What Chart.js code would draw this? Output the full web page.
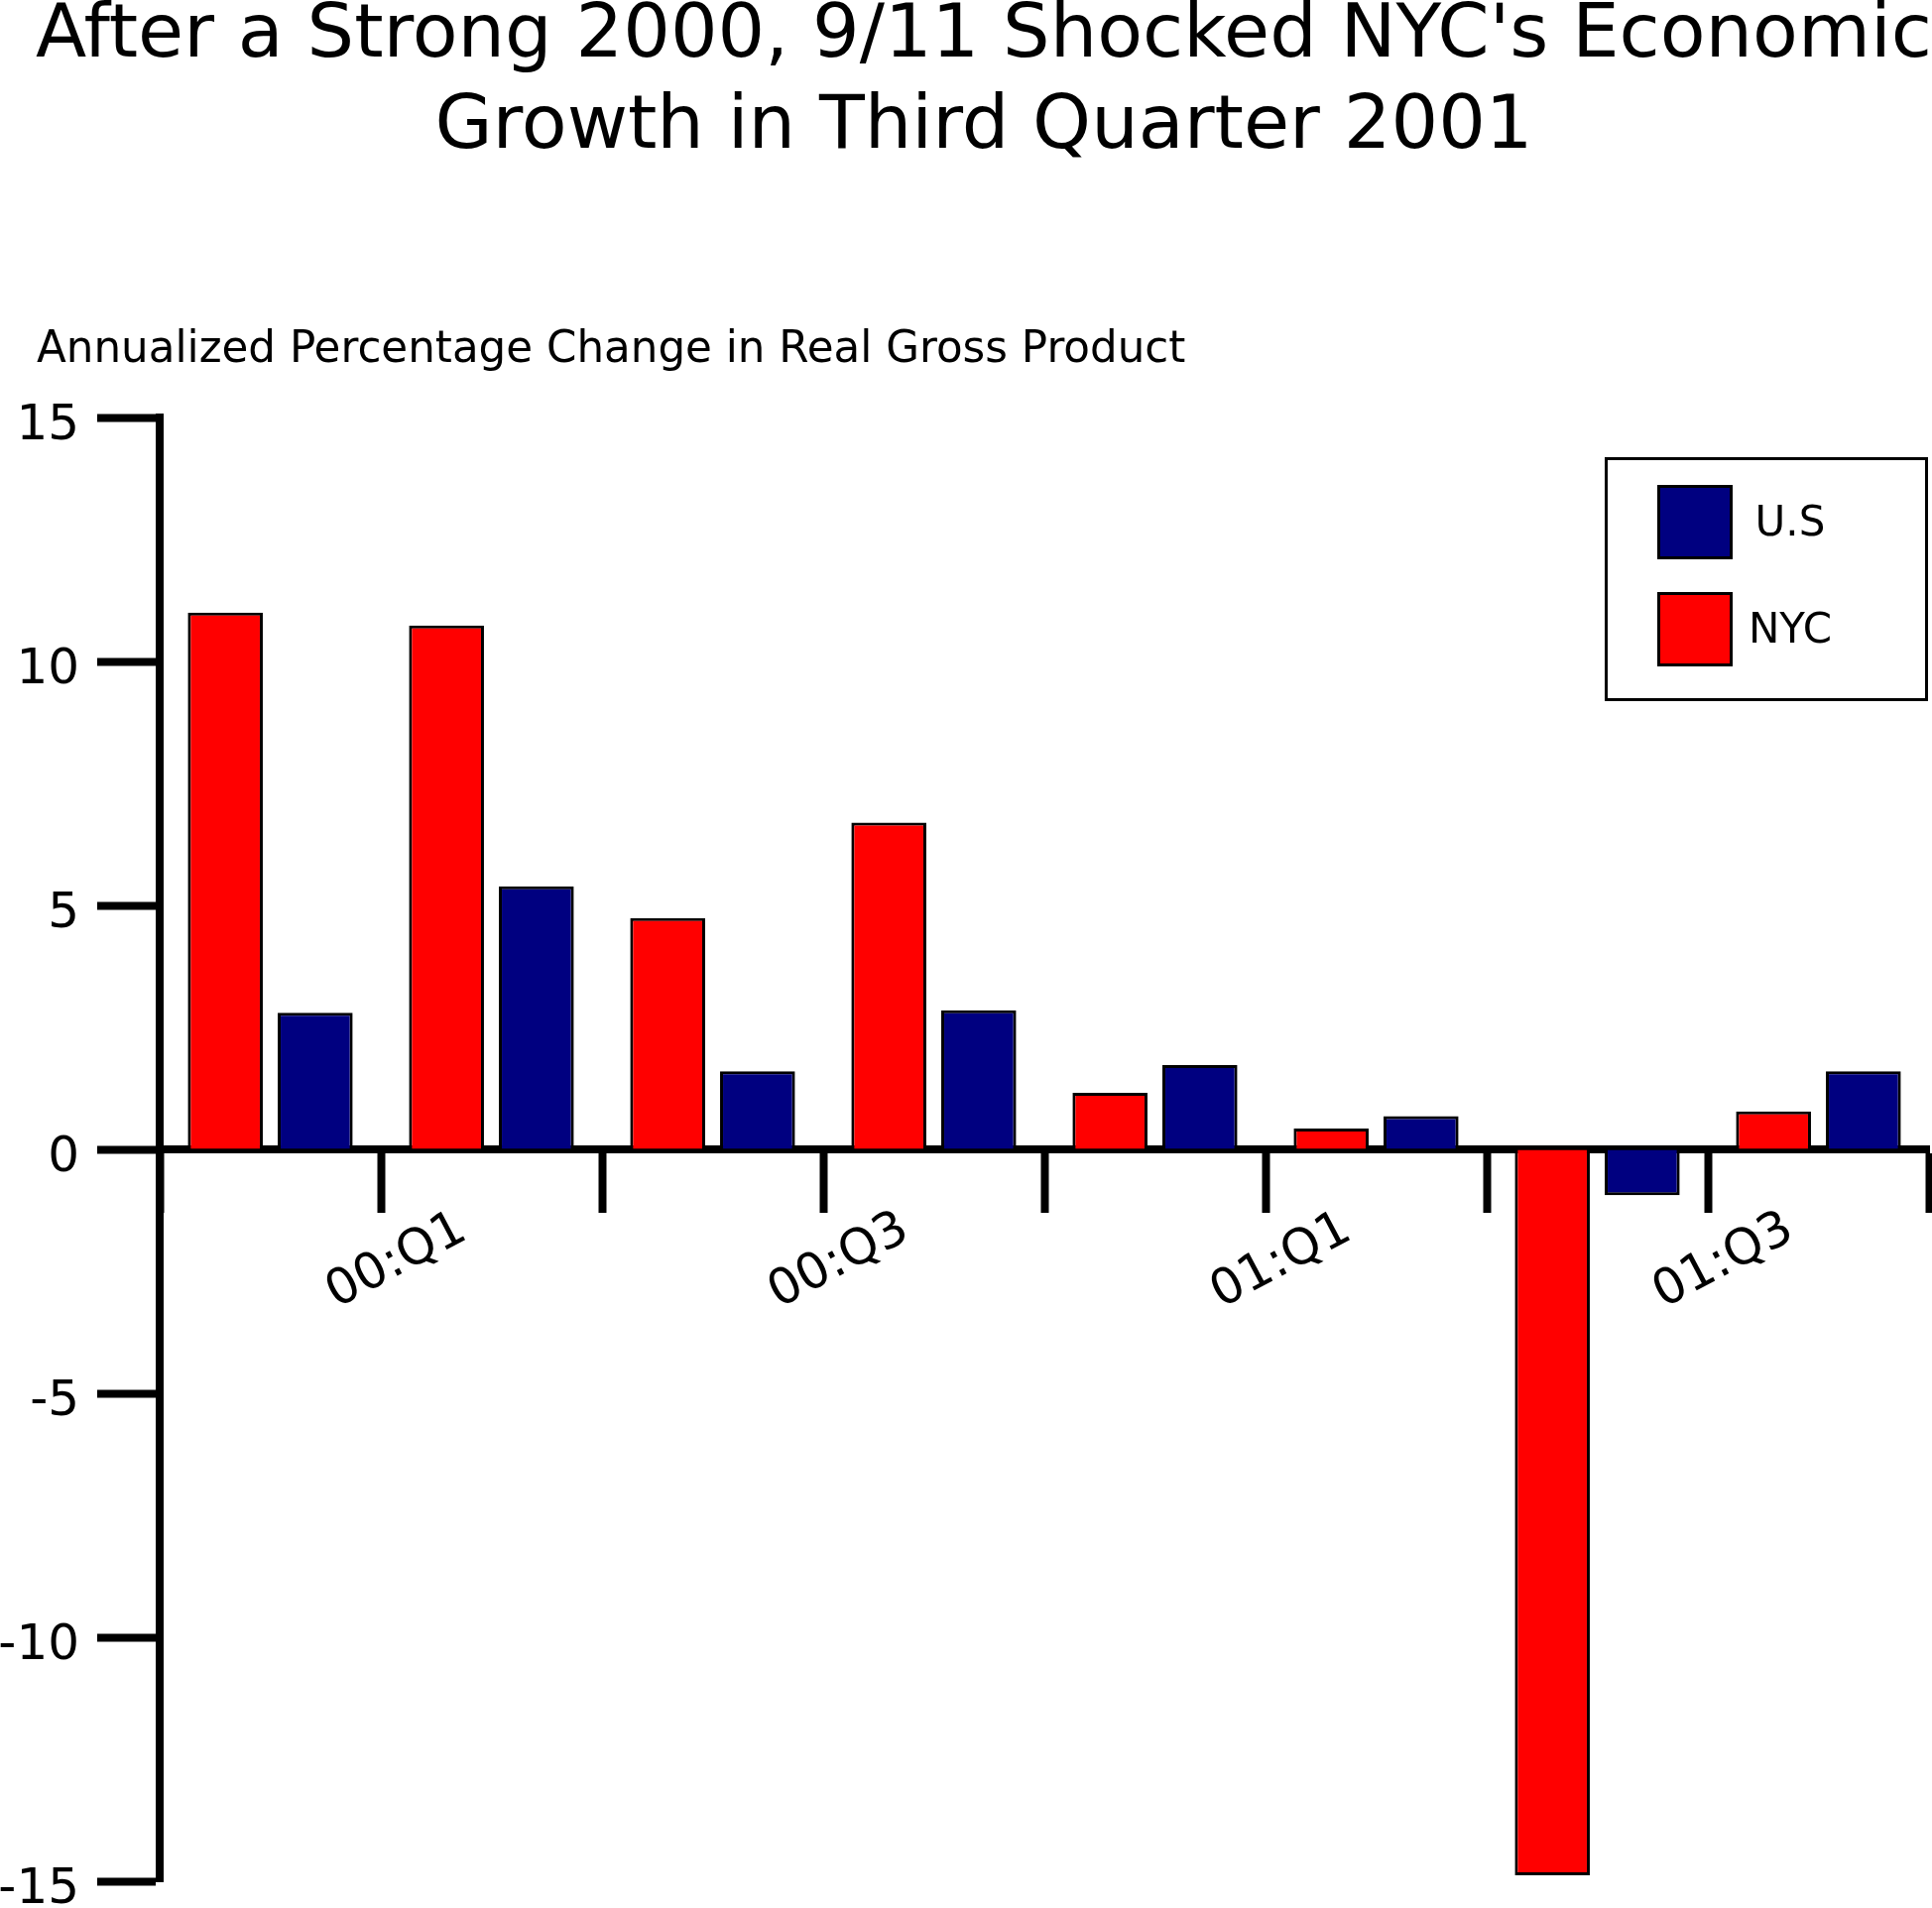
<!DOCTYPE html>
<html>
<head>
<meta charset="utf-8">
<script src="https://cdn.jsdelivr.net/npm/chart.js@4/dist/chart.umd.min.js"></script>
<style>
  html, body { margin: 0; padding: 0; background: #fff; overflow: hidden; }
  canvas { display: block; }
</style>
</head>
<body>
<canvas id="gdpChart" width="1948" height="1924"></canvas>
<script>
// quarterly data, annualized % change in real gross product
const quarters = ["00:Q1", "00:Q2", "00:Q3", "00:Q4", "01:Q1", "01:Q2", "01:Q3", "01:Q4"]
const nycGrowth = [11.0, 10.74, 4.74, 6.7, 1.16, 0.43, -14.88, 0.78]
const usGrowth = [2.8, 5.39, 1.6, 2.85, 1.73, 0.68, -0.94, 1.6]
// the original chart prints its quarter labels on the category boundaries
const quarterTicks = ["", "00:Q1", "", "00:Q3", "", "01:Q1", "", "01:Q3", ""]
const yTicks = [15, 10, 5, 0, -5, -10, -15]

const titleLines = ["After a Strong 2000, 9/11 Shocked NYC's Economic", "Growth in Third Quarter 2001"]
const subtitleText = "Annualized Percentage Change in Real Gross Product"

Chart.defaults.font.family = "'DejaVu Sans', sans-serif"
Chart.defaults.color = "#000"

// small layout tweaks: y labels may run off the left edge, title centred a bit right
const layoutTweaks = {
  id: "layoutTweaks",
  afterLayout(chart) {
    chart.scales.y.left = 0
    if (chart.titleBlock) {
      chart.titleBlock.left = 36
      chart.titleBlock.right = 1948
    }
  },
}

// boxed legend inside the plot, U.S listed first
const boxLegend = {
  id: "boxLegend",
  afterDraw(chart) {
    const ctx = chart.ctx
    ctx.save()
    ctx.fillStyle = "#fff"
    ctx.fillRect(1618, 461, 326, 246)
    ctx.strokeStyle = "#000"
    ctx.lineWidth = 3
    ctx.strokeRect(1619.5, 462.5, 323, 243)
    const items = chart.data.datasets.slice().reverse()
    items.forEach((ds, i) => {
      const top = 489 + i * 108
      ctx.fillStyle = ds.backgroundColor
      ctx.fillRect(1671, top, 76, 75)
      ctx.strokeRect(1672.5, top + 1.5, 73, 72)
      ctx.fillStyle = "#000"
      ctx.font = "42px 'DejaVu Sans'"
      ctx.textAlign = "center"
      ctx.textBaseline = "middle"
      ctx.fillText(ds.label, 1805, top + 40)
    })
    ctx.restore()
  },
}

const barStyle = {
  borderColor: "#000",
  borderWidth: 3,
  categoryPercentage: 0.813,
  barPercentage: 0.834,
}

new Chart(document.getElementById("gdpChart").getContext("2d"), {
  type: "bar",
  data: {
    labels: quarters,
    datasets: [
      { label: "NYC", data: nycGrowth, backgroundColor: "#ff0000", ...barStyle },
      { label: "U.S", data: usGrowth, backgroundColor: "#000080", ...barStyle },
    ],
  },
  options: {
    responsive: false,
    animation: false,
    devicePixelRatio: 1,
    layout: { padding: { left: 37, right: 3, top: 0, bottom: 27 } },
    plugins: {
      legend: { display: false },
      tooltip: { enabled: false },
      title: {
        display: true,
        text: titleLines,
        color: "#000",
        font: { size: 75, weight: "normal", lineHeight: 1.227 },
        padding: { top: -8.4, bottom: 0 },
      },
      subtitle: {
        display: true,
        text: subtitleText,
        align: "start",
        color: "#000",
        font: { size: 43.6, weight: "normal", lineHeight: 1.2 },
        padding: { top: 152.2, bottom: 40.9 },
      },
    },
    scales: {
      x: { display: false, offset: true },
      xq: {
        type: "category",
        axis: "x",
        labels: quarterTicks,
        offset: false,
        position: { y: 0 },
        z: 1,
        afterFit(scale) {
          scale.paddingLeft = 0
          scale.paddingRight = 0
        },
        grid: { drawOnChartArea: false, offset: false, tickLength: 60, tickWidth: 8, tickColor: "#000" },
        border: { display: true, width: 8, color: "#000" },
        ticks: {
          autoSkip: false,
          minRotation: 28,
          maxRotation: 28,
          labelOffset: 83,
          padding: -9,
          color: "#000",
          font: { size: 50, lineHeight: 1.2 },
        },
      },
      y: {
        min: -15,
        max: 15,
        afterFit(scale) {
          scale.width = 124
          scale.paddingTop = 0
          scale.paddingBottom = 0
        },
        afterBuildTicks(scale) { scale.ticks = yTicks.map((v) => ({ value: v })) },
        grid: { drawOnChartArea: false, tickLength: 63, tickWidth: 8, tickColor: "#000" },
        border: { display: true, width: 8, color: "#000" },
        ticks: { padding: 18, labelOffset: 9, color: "#000", font: { size: 50, lineHeight: 1 } },
      },
    },
  },
  plugins: [layoutTweaks, boxLegend],
})
</script>
</body>
</html>
